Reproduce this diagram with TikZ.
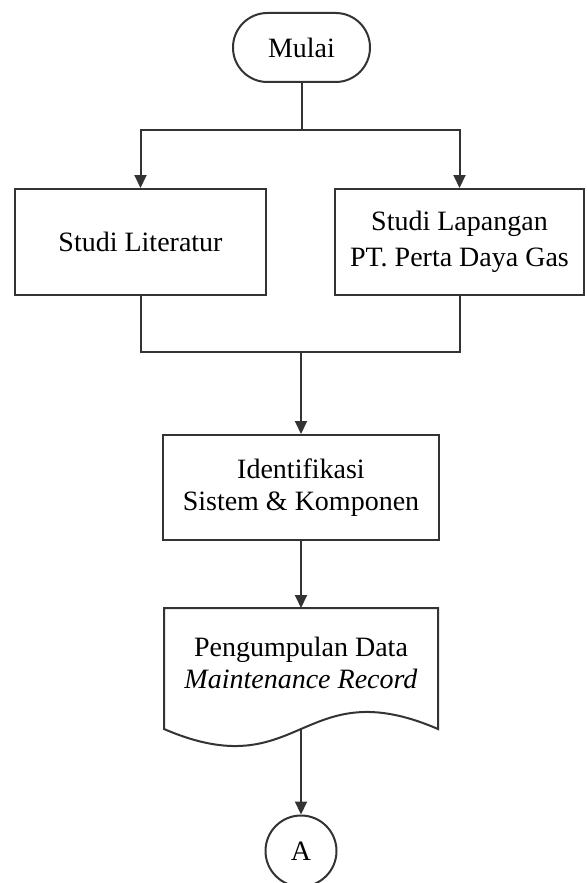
\documentclass[tikz,border=0pt]{standalone}
\usepackage{fontspec}
\setmainfont{Liberation Serif}
\usetikzlibrary{arrows.meta,positioning}

\begin{document}
\begin{tikzpicture}[x=0.5pt,y=-0.5pt,line width=1pt,
  font=\fontsize{14}{16}\selectfont,
  kotak/.style={draw=black!80,rectangle,align=center,inner sep=0pt},
  panah/.style={draw=black!80,-{Triangle[length=6.5pt,width=6pt]}},
  garis/.style={draw=black!80}]
 \useasboundingbox (0,0) rectangle (587,883);
 \node[kotak,rounded corners=17.2pt,minimum width=68.5pt,minimum height=34.5pt]
   (mulai) at (301.5,47.5) {Mulai};
 \node[kotak,minimum width=125.5pt,minimum height=53pt]
   (lit) at (140.5,242) {Studi Literatur};
 \node[kotak,minimum width=124.5pt,minimum height=53pt,
   font=\fontsize{14}{18}\selectfont]
   (lap) at (459.5,242) {Studi Lapangan\\PT. Perta Daya Gas};
 \node[kotak,minimum width=138pt,minimum height=52.5pt]
   (ident) at (301,487.5) {Identifikasi\\Sistem \& Komponen};
 \node[align=center,inner sep=0pt] (data) at (301,663)
   {Pengumpulan Data\\\textit{Maintenance Record}};
 \draw[garis] (164,729) -- (164,608) -- (438,608) -- (438,729)
   .. controls (301,670) and (301,788) .. (164,729) -- cycle;
 \node[draw=black!80,circle,minimum size=35.5pt,inner sep=0pt] (a) at (301,851) {A};
 \coordinate (cabang) at (301.5,130);
 \coordinate (gabung) at (301,352);
 \coordinate (dataatas) at (301,608);
 \coordinate (databawah) at (301,730);
 \draw[garis] (mulai) -- (cabang);
 \draw[panah] (cabang) -| (lit.north);
 \draw[panah] (cabang) -| (lap.north);
 \draw[garis] (lit.south) |- (gabung);
 \draw[garis] (lap.south) |- (gabung);
 \draw[panah] (gabung) -- (ident);
 \draw[panah] (ident) -- (dataatas);
 \draw[panah] (databawah) -- (a);
\end{tikzpicture}
\end{document}
